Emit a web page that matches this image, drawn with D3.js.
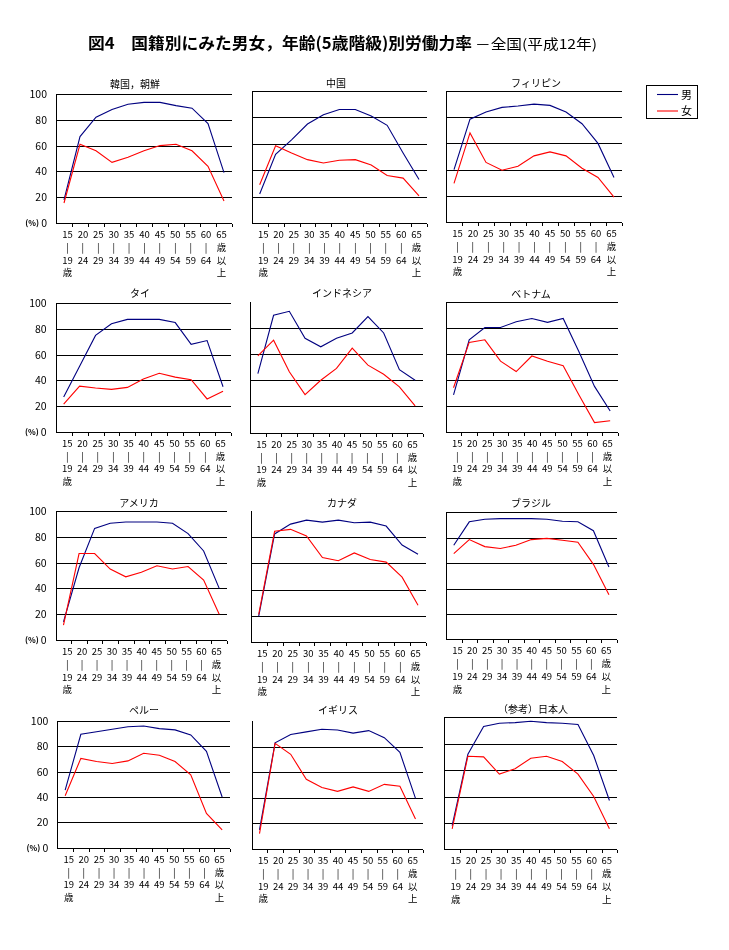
<!DOCTYPE html>
<html>
<head>
<meta charset="utf-8">
<script src="https://cdn.jsdelivr.net/npm/d3@7"></script>
<style>
  html, body { margin: 0; padding: 0; background: #fff; }
  svg { will-change: transform; }
  text { font-family: "Noto Sans CJK JP", "Noto Sans", sans-serif; fill: #000; }
</style>
</head>
<body>
<svg id="chart" width="729" height="950"></svg>
<script>
// ---------------- data ----------------
const categories = ["15-19","20-24","25-29","30-34","35-39","40-44","45-49","50-54","55-59","60-64","65+"];
const categoryLabels = [
  ["15","|","19","歳"],["20","|","24"],["25","|","29"],["30","|","34"],["35","|","39"],
  ["40","|","44"],["45","|","49"],["50","|","54"],["55","|","59"],["60","|","64"],["65","歳","以","上"]
];
const countries = ["韓国，朝鮮","中国","フィリピン","タイ","インドネシア","ベトナム",
                   "アメリカ","カナダ","ブラジル","ペルー","イギリス","（参考）日本人"];
const seriesNames = ["男","女"];
const yTicks = [0, 20, 40, 60, 80, 100];

const maleRates = [
  [18, 67, 82, 88, 92, 93.5, 93.5, 91, 89, 77, 39],        // 韓国，朝鮮
  [22, 52, 63, 75, 82, 86, 86, 81, 74, 53, 33],            // 中国
  [40, 78.5, 84, 87.5, 88.5, 90, 89, 84, 75, 60, 34],      // フィリピン
  [27, 51, 75, 84, 87.5, 87.5, 87.5, 85, 68, 71, 35],      // タイ
  [45, 89.5, 92.5, 72, 65.5, 72, 76, 88.5, 76, 48, 40],    // インドネシア
  [28.5, 71, 80.5, 80.5, 85, 87.5, 84.5, 87.5, 62, 35, 16],// ベトナム
  [14, 56, 86.5, 90.5, 91.5, 91.5, 91.5, 90.5, 82.5, 69, 40], // アメリカ
  [19.5, 82.5, 90, 93, 91.5, 93, 91, 91.5, 88.5, 74, 67],  // カナダ
  [74, 92.5, 94.5, 95, 95, 95, 94.5, 93, 92.5, 85.5, 57],  // ブラジル
  [45.5, 89.5, 91.5, 93.5, 95.5, 96, 94, 93, 89, 76, 40],  // ペルー
  [15, 83, 89.5, 91.5, 93.5, 93, 90.5, 92.5, 87, 75.5, 39.5], // イギリス
  [18, 72, 93, 95.5, 96, 97, 96, 95.5, 94.5, 71, 37]       // 日本人
];
const femaleRates = [
  [15.5, 61, 56, 47, 51, 56, 60, 61, 56, 44, 17],
  [29, 58.5, 53, 48, 45.5, 47.5, 48, 44, 36, 34, 20.5],
  [29.5, 68, 45.5, 39.5, 42.5, 50.5, 53.5, 50.5, 41, 34, 19],
  [21.5, 35.5, 34, 33, 34.5, 41, 45.5, 42.5, 40.5, 25.5, 31.5],
  [58.5, 70.5, 46.5, 29, 40, 49, 64.5, 51.5, 44.5, 35, 20.5],
  [34, 69, 71, 54.5, 46.5, 58.5, 54.5, 51, 28.5, 7, 8.5],
  [11.5, 67, 67, 55, 49, 52.5, 57.5, 55, 57, 46.5, 20],
  [21, 84.5, 86, 81, 64.5, 62, 68, 63, 61, 49.5, 28],
  [67.5, 78.5, 73, 71.5, 74, 78.5, 79.5, 78, 76.5, 59, 35],
  [41, 70.5, 68, 66.5, 68.5, 74.5, 73, 68, 57.5, 27, 14],
  [12, 82.5, 74, 54.5, 48, 45, 48.5, 45, 50.5, 49, 23.5],
  [15.5, 70.5, 70, 57, 61, 69, 70.5, 66.5, 57, 40, 15.5]
];

// ---------------- layout (positions only) ----------------
// [left, right, top(=100), bottom(=0)]
const panelBoxes = [
  [56, 232, 94, 223], [251.7, 427, 91, 223], [446, 622, 91, 222],
  [55.7, 231, 303.3, 431.7], [250, 423, 301.5, 432.7], [445.7, 618, 302.3, 431.7],
  [55.7, 227, 511, 640], [250.7, 426, 511, 642], [446, 616.7, 512.3, 639.3],
  [57.3, 230, 721, 847.7], [251.7, 423.3, 721, 849], [444.3, 617.3, 717.3, 849.3]
];
const panelTitleX = [135, 336, 536, 140, 342, 531, 139, 342, 531, 144, 338, 533];
const panelTitleY = [84, 83, 83, 293, 293, 294, 503, 503, 503, 710, 710, 709];
const hideTopGrid = [false, false, false, false, true, false, false, true, false, false, true, false];
const colors = ["#000080", "#ff0000"];

const svg = d3.select("#chart");

// main title
svg.append("text")
  .attr("x", 88).attr("y", 49)
  .attr("font-size", 16).attr("font-weight", "bold")
  .attr("textLength", 384).attr("lengthAdjust", "spacingAndGlyphs")
  .text("図4　国籍別にみた男女，年齢(5歳階級)別労働力率");
svg.append("text")
  .attr("x", 475).attr("y", 49)
  .attr("font-size", 13.5)
  .attr("textLength", 122).attr("lengthAdjust", "spacingAndGlyphs")
  .text("－全国(平成12年)");

countries.forEach((name, i) => {
  const [l, r, t, b] = panelBoxes[i];
  const g = svg.append("g");
  const x = d3.scaleBand().domain(categories).range([l, r]).padding(0);
  const xl = d3.scalePoint().domain(categories).range([l + 11.5, r - 10.5]);
  const y = d3.scaleLinear().domain([0, 100]).range([b, t]);

  // gridlines
  const grid = yTicks.filter(v => v > 0 && !(v === 100 && hideTopGrid[i]));
  g.selectAll("line.grid").data(grid).join("line")
    .attr("x1", l).attr("x2", r)
    .attr("y1", d => Math.round(y(d)) + 0.5).attr("y2", d => Math.round(y(d)) + 0.5)
    .attr("stroke", "#000").attr("stroke-width", 1.2).attr("shape-rendering", "crispEdges");

  // axes
  const x0 = Math.round(l) + 0.5, yb = Math.round(b) + 0.5;
  g.append("line").attr("x1", x0).attr("x2", x0).attr("y1", y(100)).attr("y2", yb)
    .attr("stroke", "#000").attr("stroke-width", 1.2).attr("shape-rendering", "crispEdges");
  g.append("line").attr("x1", l).attr("x2", r).attr("y1", yb).attr("y2", yb)
    .attr("stroke", "#000").attr("stroke-width", 1.2).attr("shape-rendering", "crispEdges");
  // category ticks at band boundaries
  const bounds = categories.map(c => x(c) + x.bandwidth());
  g.selectAll("line.tick").data(bounds).join("line")
    .attr("x1", d => Math.round(d) + 0.5).attr("x2", d => Math.round(d) + 0.5)
    .attr("y1", yb).attr("y2", yb + 3)
    .attr("stroke", "#000").attr("stroke-width", 1).attr("shape-rendering", "crispEdges");

  // category labels (stacked, one text per line)
  const lab = g.append("g").attr("opacity", 0.999);
  categories.forEach((c, ci) => {
    categoryLabels[ci].forEach((s, li) => {
      lab.append("text").attr("font-size", 9.5).attr("text-anchor", "middle")
        .attr("x", xl(c)).attr("y", b + 15 + li * 12.8).text(s);
    });
  });

  // y labels only in first column
  if (i % 3 === 0) {
    g.selectAll("text.ylab").data(yTicks).join("text")
      .attr("x", l - 9).attr("y", d => y(d) + 4)
      .attr("text-anchor", "end").attr("font-size", 10.5)
      .text(d => d);
    g.append("text").attr("x", l - 17).attr("y", y(0) + 3)
      .attr("text-anchor", "end").attr("font-size", 8).attr("font-weight", "bold")
      .text("(%)");
  }

  // title
  g.append("text").attr("x", panelTitleX[i]).attr("y", panelTitleY[i] + 4)
    .attr("text-anchor", "middle").attr("font-size", 10).text(name);

  // series
  const line = d3.line().x((d, k) => x(categories[k]) + x.bandwidth() / 2).y(d => y(d));
  [maleRates[i], femaleRates[i]].forEach((vals, si) => {
    g.append("path").datum(vals).attr("d", line)
      .attr("fill", "none").attr("stroke", colors[si]).attr("stroke-width", 1.1);
  });
});

// legend
const lg = svg.append("g");
lg.append("rect").attr("x", 646.5).attr("y", 85.5).attr("width", 51).attr("height", 33)
  .attr("fill", "#fff").attr("stroke", "#000").attr("stroke-width", 1);
seriesNames.forEach((s, si) => {
  const yy = 94.5 + si * 16.5;
  lg.append("line").attr("x1", 657).attr("x2", 678).attr("y1", yy).attr("y2", yy)
    .attr("stroke", colors[si]).attr("stroke-width", 1.1);
  lg.append("text").attr("x", 681).attr("y", yy + 4).attr("font-size", 11).text(s);
});
</script>
</body>
</html>
